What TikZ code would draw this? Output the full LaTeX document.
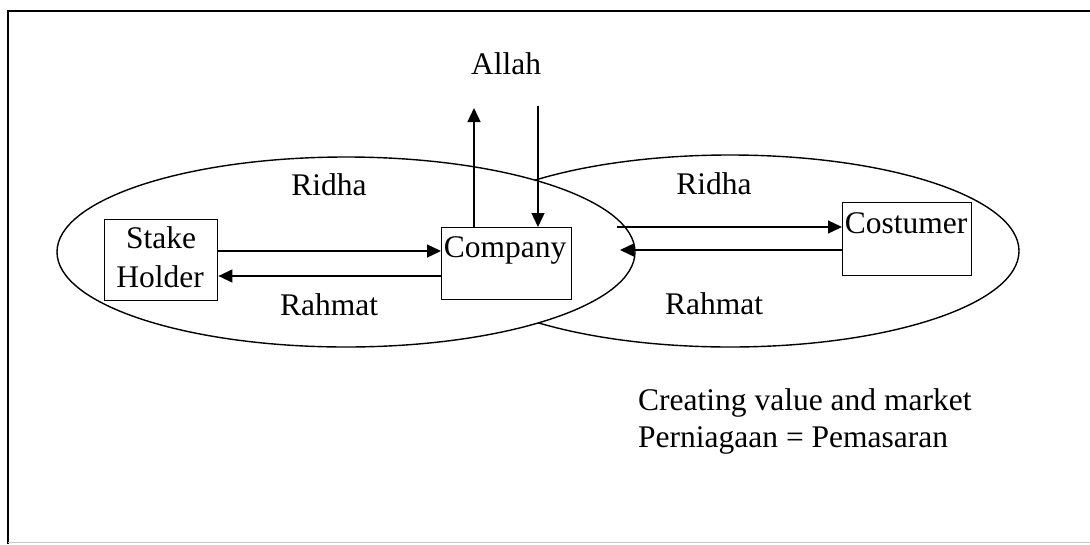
\documentclass[tikz,border=0pt]{standalone}
\usepackage{fontspec}
\setmainfont{Liberation Serif}
\usetikzlibrary{arrows.meta}
\begin{document}
\begin{tikzpicture}[x=1pt,y=-1pt,
  ln/.style={line width=1.4pt},
  arr/.style={ln,-{Triangle[length=14pt,width=13pt]}},
  boxn/.style={draw,ln,rectangle,inner sep=0pt,anchor=north west},
  txt/.style={inner sep=0pt,anchor=base,font=\fontsize{31.5}{36}\selectfont},
  txtl/.style={txt,anchor=base west}]
\useasboundingbox (0,0) rectangle (1090,544);
% frame
\draw[ln] (1090,11) -- (8,11) -- (8,544);
\draw[gray!45,line width=1pt] (8,542) -- (1090,542);
% ellipses
\draw[ln] (730,251) ellipse [x radius=289pt, y radius=96pt];
\filldraw[ln,fill=white] (346,252) ellipse [x radius=289pt, y radius=95pt];
% boxes
\node[boxn,minimum width=113pt,minimum height=81pt] (sh) at (104,219) {};
\node[boxn,minimum width=130pt,minimum height=72pt] (co) at (441,227) {};
\node[boxn,minimum width=129pt,minimum height=73pt] (cu) at (842,202) {};
% box texts
\node[txt] (t1) at (161,248) {Stake};
\node[txt] (t2) at (160,287) {Holder};
\node[txt] (t3) at (505,257) {Company};
\node[txt] (t4) at (906,233) {Costumer};
% labels
\node[txt] (allah) at (506,74) {Allah};
\node[txt] (ri1) at (329,195) {Ridha};
\node[txt] (ra1) at (329,315) {Rahmat};
\node[txt] (ri2) at (714,194) {Ridha};
\node[txt] (ra2) at (714,314) {Rahmat};
\node[txtl] (c1) at (638,410) {Creating value and market};
\node[txtl] (c2) at (638,447) {Perniagaan = Pemasaran};
% connectors
\draw[arr] (sh.east |- 0,251) -- (co.west |- 0,251);
\draw[arr] (co.west |- 0,276) -- (sh.east |- 0,276);
\coordinate (r1) at (617,227);
\coordinate (r2) at (620,250);
\draw[arr] (r1) -- (cu.west |- r1);
\draw[arr] (cu.west |- r2) -- (r2);
\coordinate (up) at (474,108);
\coordinate (dn) at (538,106);
\draw[arr] (co.north -| up) -- (up);
\draw[arr] (dn) -- (co.north -| dn);
\end{tikzpicture}
\end{document}
